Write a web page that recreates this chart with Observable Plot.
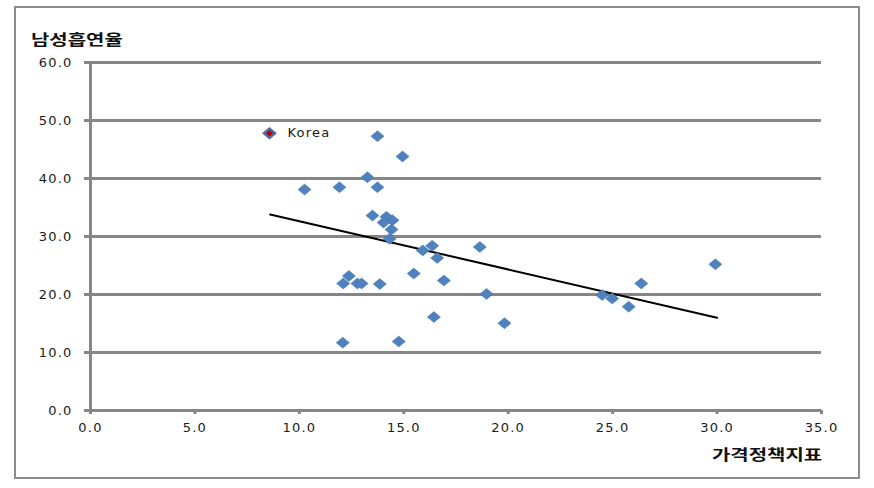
<!DOCTYPE html>
<html>
<head>
<meta charset="utf-8">
<script src="https://cdn.jsdelivr.net/npm/d3@7"></script>
<script src="https://cdn.jsdelivr.net/npm/@observablehq/plot@0.6"></script>
<style>
  body { margin: 0; background: #fff; }
  #wrap { position: relative; width: 874px; height: 488px; overflow: hidden; }
  #frame { position: absolute; left: 14px; top: 6px; width: 846px; height: 473px; border: 2px solid #8c8c8c; box-sizing: border-box; }
  #chart { position: absolute; left: 0; top: 0; }
  .ktitle { position: absolute; font-family: "Noto Sans CJK KR", sans-serif; font-weight: bold; font-size: 15px; line-height: 16px; color: #111; transform: scaleX(1.33); transform-origin: left top; white-space: nowrap; }
</style>
</head>
<body>
<div id="wrap">
  <div id="frame"></div>
  <div id="chart"></div>
  <div class="ktitle" id="ytitle" style="left:31px; top:31px;"></div>
  <div class="ktitle" id="xtitle" style="left:712px; top:446px;"></div>
</div>
<script>
// ---- data ----
const yTitle = "남성흡연율";
const xTitle = "가격정책지표";
const xTicks = [0, 5, 10, 15, 20, 25, 30, 35];
const yTicks = [0, 10, 20, 30, 40, 50, 60];

const priceIndex = [13.74, 14.94, 10.25, 11.92, 13.26, 13.74, 13.50, 14.17, 14.46, 14.03, 14.41, 14.32,
  16.36, 15.91, 16.60, 18.64, 12.37, 12.10, 12.78, 12.98, 13.85, 15.48, 16.92, 18.96,
  16.44, 19.82, 12.08, 14.76, 29.92, 26.37, 24.50, 24.98, 25.77];
const maleSmoking = [47.3, 43.8, 38.1, 38.5, 40.2, 38.5, 33.6, 33.4, 32.8, 32.4, 31.2, 29.6,
  28.4, 27.6, 26.3, 28.2, 23.2, 21.9, 21.9, 21.9, 21.8, 23.6, 22.4, 20.1,
  16.1, 15.05, 11.7, 11.9, 25.2, 21.9, 19.9, 19.3, 17.9];

const koreaLabel = ["Korea"];
const koreaX = [8.57];
const koreaY = [47.8];

const trendX = [8.6, 30.0];
const trendY = [33.8, 16.0];

// ---- build ----
const points = priceIndex.map((x, i) => ({x, y: maleSmoking[i]}));
const korea = koreaLabel.map((t, i) => ({x: koreaX[i], y: koreaY[i], t}));
const trend = trendX.map((x, i) => ({x, y: trendY[i]}));

const diamond = {
  draw(ctx, size) {
    const r = Math.sqrt(size / Math.PI);
    const w = r * 1.2, h = r;
    ctx.moveTo(0, -h); ctx.lineTo(w, 0); ctx.lineTo(0, h); ctx.lineTo(-w, 0); ctx.closePath();
  }
};

const gray = "#868686";
const fmt = d => d.toFixed(1);

const chart = Plot.plot({
  width: 874,
  height: 488,
  marginLeft: 90,
  marginRight: 53,
  marginTop: 62,
  marginBottom: 78,
  style: { fontFamily: "DejaVu Sans, sans-serif", fontSize: "13px", background: "transparent", overflow: "visible", letterSpacing: "1.2px" },
  x: { domain: [0, 35] },
  y: { domain: [0, 60] },
  marks: [
    Plot.ruleY(yTicks, { stroke: gray, strokeWidth: 3 }),
    Plot.ruleX([0], { stroke: gray, strokeWidth: 3 }),
    Plot.axisY({ ticks: yTicks, tickSize: 6, tickPadding: 12, stroke: gray, strokeWidth: 3, fill: "#1a1a1a", tickFormat: fmt, label: null, fontSize: 13 }),
    Plot.axisX({ ticks: xTicks, tickSize: 4, tickPadding: 8, stroke: gray, strokeWidth: 3, fill: "#1a1a1a", tickFormat: fmt, label: null, fontSize: 13 }),
    Plot.line(trend, { x: "x", y: "y", stroke: "#000", strokeWidth: 2 }),
    Plot.dot(points, { x: "x", y: "y", symbol: diamond, r: 5.5, fill: "#4F81BD", stroke: "#4676B0", strokeWidth: 0.5 }),
    Plot.dot(korea, { x: "x", y: "y", symbol: diamond, r: 4.6, fill: "#C00000", stroke: "#52699A", strokeWidth: 2.5 }),
    Plot.text(korea, { x: "x", y: "y", text: "t", dx: 18, textAnchor: "start", fill: "#1a1a1a", fontSize: 13 })
  ]
});

document.getElementById("chart").appendChild(chart);
document.getElementById("ytitle").textContent = yTitle;
document.getElementById("xtitle").textContent = xTitle;
</script>
</body>
</html>
